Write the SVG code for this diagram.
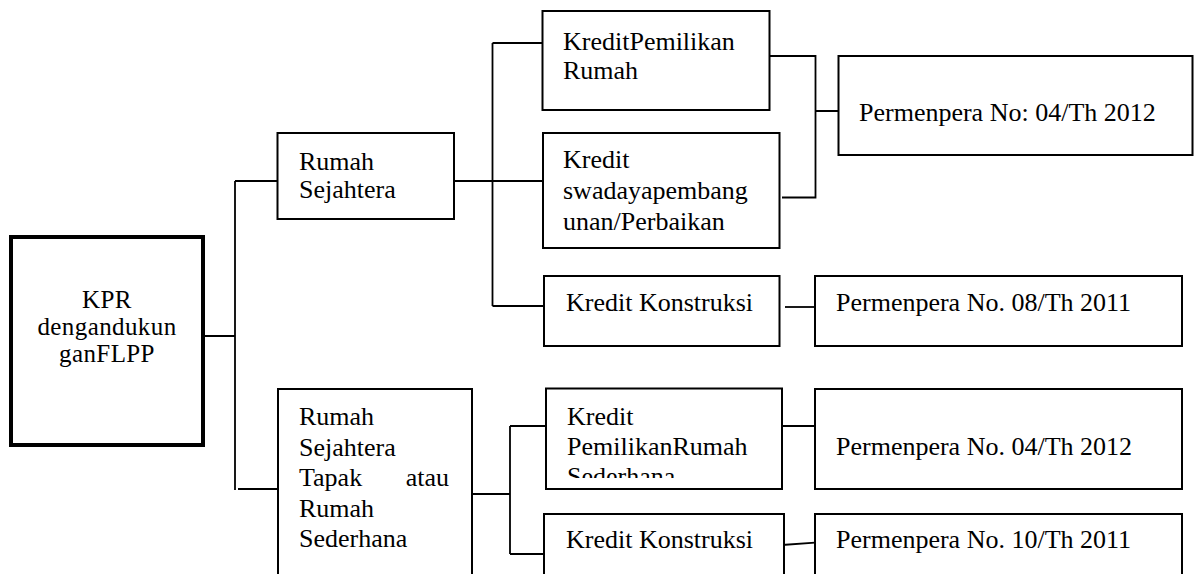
<svg xmlns="http://www.w3.org/2000/svg" width="1194" height="574" viewBox="0 0 1194 574">
<style>
.box{fill:#fff;stroke:#000;stroke-width:2}
.main{fill:#fff;stroke:#000;stroke-width:4}
.t{font-family:"Liberation Serif","Times New Roman",serif;font-size:26px;fill:#000}
.k{font-size:25px}
.c{fill:none;stroke:#000;stroke-width:1.8}
</style>
<defs>
<clipPath id="clipKPRS"><rect x="546" y="388" width="236" height="90"/></clipPath>
</defs>
<rect width="1194" height="574" fill="#fff"/>
<g id="connectors">
<path class="c" d="M203 336H235M235 181V490M235 181H277M238 489H278"/>
<path class="c" d="M454 181H543M492.5 43V306M492.5 43H542M492.5 306H544"/>
<path class="c" d="M769 56H815.5V197.5H782M815.5 111H838"/>
<path class="c" d="M785 307H815"/>
<path class="c" d="M472 494H510M510 426V554M510 426H546M510 554H544"/>
<path class="c" d="M782 426H815"/>
<path class="c" d="M782 545L815 542.7"/>
</g>
<g id="kpr">
<rect class="main" x="11" y="237" width="192" height="208"/>
<text class="t k" text-anchor="middle" letter-spacing="0.4"><tspan x="107" y="308">KPR</tspan><tspan x="107" y="335">dengandukun</tspan><tspan x="107" y="362">ganFLPP</tspan></text>
</g>
<g id="rumah-sejahtera">
<rect class="box" x="277.5" y="133" width="176.5" height="86"/>
<text class="t"><tspan x="299" y="170">Rumah</tspan><tspan x="299" y="198">Sejahtera</tspan></text>
</g>
<g id="kredit-pemilikan-rumah">
<rect class="box" x="542.5" y="11" width="227" height="99"/>
<text class="t"><tspan x="563" y="50">KreditPemilikan</tspan><tspan x="563" y="79">Rumah</tspan></text>
</g>
<g id="kredit-swadaya">
<rect class="box" x="543" y="133" width="236.5" height="115"/>
<text class="t"><tspan x="563" y="168">Kredit</tspan><tspan x="563" y="199">swadayapembang</tspan><tspan x="563" y="230">unan/Perbaikan</tspan></text>
</g>
<g id="kredit-konstruksi-1">
<rect class="box" x="544" y="276" width="235.5" height="70"/>
<text class="t" x="566" y="311">Kredit Konstruksi</text>
</g>
<g id="permenpera-04-2012-a">
<rect class="box" x="838.5" y="56" width="354" height="99"/>
<text class="t" x="859" y="121">Permenpera No: 04/Th 2012</text>
</g>
<g id="permenpera-08-2011">
<rect class="box" x="815" y="276" width="367" height="70"/>
<text class="t" x="836" y="311">Permenpera No. 08/Th 2011</text>
</g>
<g id="rumah-sejahtera-tapak">
<rect class="box" x="278" y="389" width="194" height="200"/>
<text class="t"><tspan x="299" y="425">Rumah</tspan><tspan x="299" y="456">Sejahtera</tspan><tspan x="299" y="486" word-spacing="37">Tapak atau</tspan><tspan x="299" y="517">Rumah</tspan><tspan x="299" y="547">Sederhana</tspan></text>
</g>
<g id="kredit-pemilikan-rumah-sederhana">
<rect class="box" x="546" y="388.5" width="236" height="100.5"/>
<text class="t" clip-path="url(#clipKPRS)"><tspan x="567" y="425">Kredit</tspan><tspan x="567" y="455">PemilikanRumah</tspan><tspan x="567" y="485">Sederhana</tspan></text>
</g>
<g id="permenpera-04-2012-b">
<rect class="box" x="815" y="389" width="367" height="100"/>
<text class="t" x="836" y="455">Permenpera No. 04/Th 2012</text>
</g>
<g id="kredit-konstruksi-2">
<rect class="box" x="544" y="514" width="240" height="80"/>
<text class="t" x="566" y="548">Kredit Konstruksi</text>
</g>
<g id="permenpera-10-2011">
<rect class="box" x="815" y="514" width="367" height="80"/>
<text class="t" x="836" y="548">Permenpera No. 10/Th 2011</text>
</g>
</svg>
